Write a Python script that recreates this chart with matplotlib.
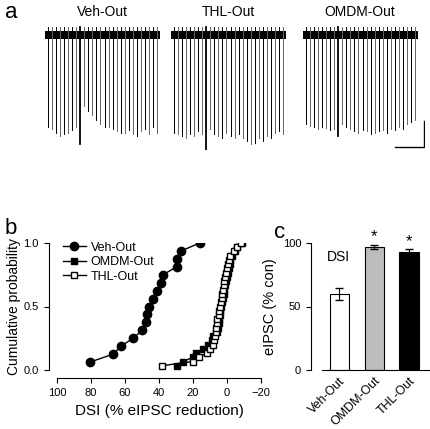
import matplotlib
matplotlib.use("Agg")
import matplotlib.pyplot as plt
import numpy as np

plt.rcParams['font.family'] = ['Liberation Sans', 'DejaVu Sans']

trace_names = ["Veh-Out", "THL-Out", "OMDM-Out"]
# spike amplitudes (depth below baseline) per trace
veh_amp = [0.80, 0.82, 0.85, 0.88, 0.86, 0.85, 0.83, 0.80, 0.95, 0.62, 0.66, 0.70, 0.74, 0.78, 0.80, 0.80, 0.82, 0.84, 0.85, 0.85, 0.83, 0.86, 0.88, 0.84, 0.82, 0.86, 0.80, 0.85]
thl_amp = [0.85, 0.86, 0.88, 0.90, 0.86, 0.88, 0.84, 0.86, 1.00, 0.82, 0.86, 0.88, 0.90, 0.85, 0.88, 0.90, 0.86, 0.90, 0.92, 0.95, 0.94, 0.90, 0.92, 0.88, 0.90, 0.85, 0.84, 0.86]
omdm_amp = [0.78, 0.79, 0.80, 0.82, 0.80, 0.81, 0.83, 0.82, 0.88, 0.78, 0.80, 0.82, 0.84, 0.85, 0.83, 0.84, 0.86, 0.85, 0.84, 0.83, 0.85, 0.82, 0.83, 0.80, 0.82, 0.78, 0.76, 0.74]
dsi_spike_index = 8

veh_dsi = [80.6, 66.9, 62.5, 55.1, 50.0, 47.6, 47.2, 45.9, 43.7, 41.0, 38.6, 37.8, 29.4, 29.2, 27.0, 16.0]
thl_dsi = [38.4, 20.2, 16.5, 12.0, 10.0, 8.5, 7.5, 7.0, 6.5, 6.2, 6.0, 5.8, 5.0, 4.5, 4.0, 3.5, 3.2, 3.0, 2.5, 2.0, 1.5, 1.0, 0.5, 0.0, -0.5, -1.0, -2.0, -4.0, -6.0, -8.0]
omdm_dsi = [29.4, 26.0, 20.0, 18.0, 14.0, 11.0, 9.0, 8.0, 6.0, 5.5, 5.0, 4.5, 4.2, 4.0, 3.5, 3.0, 2.5, 2.0, 1.5, 1.0, 0.5, 0.0, -0.5, -1.0, -1.5, -2.0, -3.0, -4.5, -6.0, -9.0]

bar_labels = ["Veh-Out", "OMDM-Out", "THL-Out"]
bar_vals = [60, 97, 93]
bar_err = [4.5, 1.5, 2.0]
bar_colors = ["white", "#bdbdbd", "black"]

W, H = 430, 429
fig = plt.figure(figsize=(W/100, H/100), dpi=100)

def ax_px(l, t, r, b):
    return fig.add_axes([l/W, 1-b/H, (r-l)/W, (b-t)/H])

# panel a
axa = ax_px(40, 5, 425, 150)
axa.set_xlim(0, 385); axa.set_ylim(-1.0, 0.25); axa.axis('off')
starts = [5, 131, 263]
for name, amps, x0 in zip(trace_names, [veh_amp, thl_amp, omdm_amp], starts):
    n = len(amps)
    xs = np.linspace(x0 + 3, x0 + 112, n)
    axa.fill_between([x0, x0 + 115], -0.045, 0.03, color='black', lw=0)
    for i, (x, a) in enumerate(zip(xs, amps)):
        c = 'black' if i % 2 == 0 or i == dsi_spike_index else '#666666'
        axa.plot([x, x], [0.06, -a], color=c, lw=1.3 if i == dsi_spike_index else 0.7)
    axa.text(x0 + 57, 0.13, name, ha='center', va='bottom', fontsize=10)
axa.plot([355, 384, 384], [-0.97, -0.97, -0.75], color='black', lw=1)
fig.text(5/W, 1-12/H, "a", fontsize=16, va='center')

# panel b
axb = ax_px(57, 243, 261, 370)
axb.plot(veh_dsi, (np.arange(len(veh_dsi))+1)/len(veh_dsi), '-o', color='black', ms=6, lw=1, label='Veh-Out')
axb.plot(omdm_dsi, (np.arange(len(omdm_dsi))+1)/len(omdm_dsi), '-s', color='black', ms=5, lw=1, label='OMDM-Out')
axb.plot(thl_dsi, (np.arange(len(thl_dsi))+1)/len(thl_dsi), '-s', color='black', mfc='white', ms=5, lw=1, label='THL-Out')
axb.set_xlim(100, -20); axb.set_ylim(0, 1.0)
axb.set_xticks([100, 80, 60, 40, 20, 0, -20])
axb.set_yticks([0, 0.5, 1.0]); axb.set_yticklabels(['0.0', '0.5', '1.0'])
axb.spines['top'].set_visible(False); axb.spines['right'].set_visible(False)
axb.spines['bottom'].set_position(('outward', 6)); axb.spines['left'].set_position(('outward', 6))
axb.tick_params(labelsize=8)
axb.set_xlabel('DSI (% eIPSC reduction)', fontsize=11)
axb.set_ylabel('Cumulative probability', fontsize=10, labelpad=2)
axb.legend(loc='upper left', frameon=False, fontsize=9, handlelength=1.8, borderaxespad=0.1,
           labelspacing=0.2, handletextpad=0.4, bbox_to_anchor=(0.0, 1.06))
fig.text(5/W, 1-229/H, "b", fontsize=16, va='center')

# panel c
axc = ax_px(322, 243, 430, 370)
x = np.arange(3)
axc.bar(x, bar_vals, width=0.56, color=bar_colors, edgecolor='black', lw=0.8,
        yerr=bar_err, capsize=3, error_kw=dict(lw=0.8))
for xi, v, e in zip(x[1:], bar_vals[1:], bar_err[1:]):
    axc.text(xi, v + e + 0.5, '*', ha='center', va='bottom', fontsize=12)
axc.set_xlim(-0.5, 2.6); axc.set_ylim(0, 100)
axc.set_yticks([0, 50, 100])
axc.set_xticks(x); axc.set_xticklabels(bar_labels, rotation=45, ha='right', fontsize=9, rotation_mode='anchor')
axc.spines['top'].set_visible(False); axc.spines['right'].set_visible(False)
axc.spines['left'].set_position(('outward', 8))
axc.tick_params(axis='y', labelsize=8)
axc.tick_params(axis='x', length=0)
axc.set_ylabel('eIPSC (% con)', fontsize=10.5)
axc.text(-0.35, 86, 'DSI', fontsize=10)
fig.text(274/W, 1-232/H, "c", fontsize=16, va='center')

fig.savefig('out.png', dpi=100)
